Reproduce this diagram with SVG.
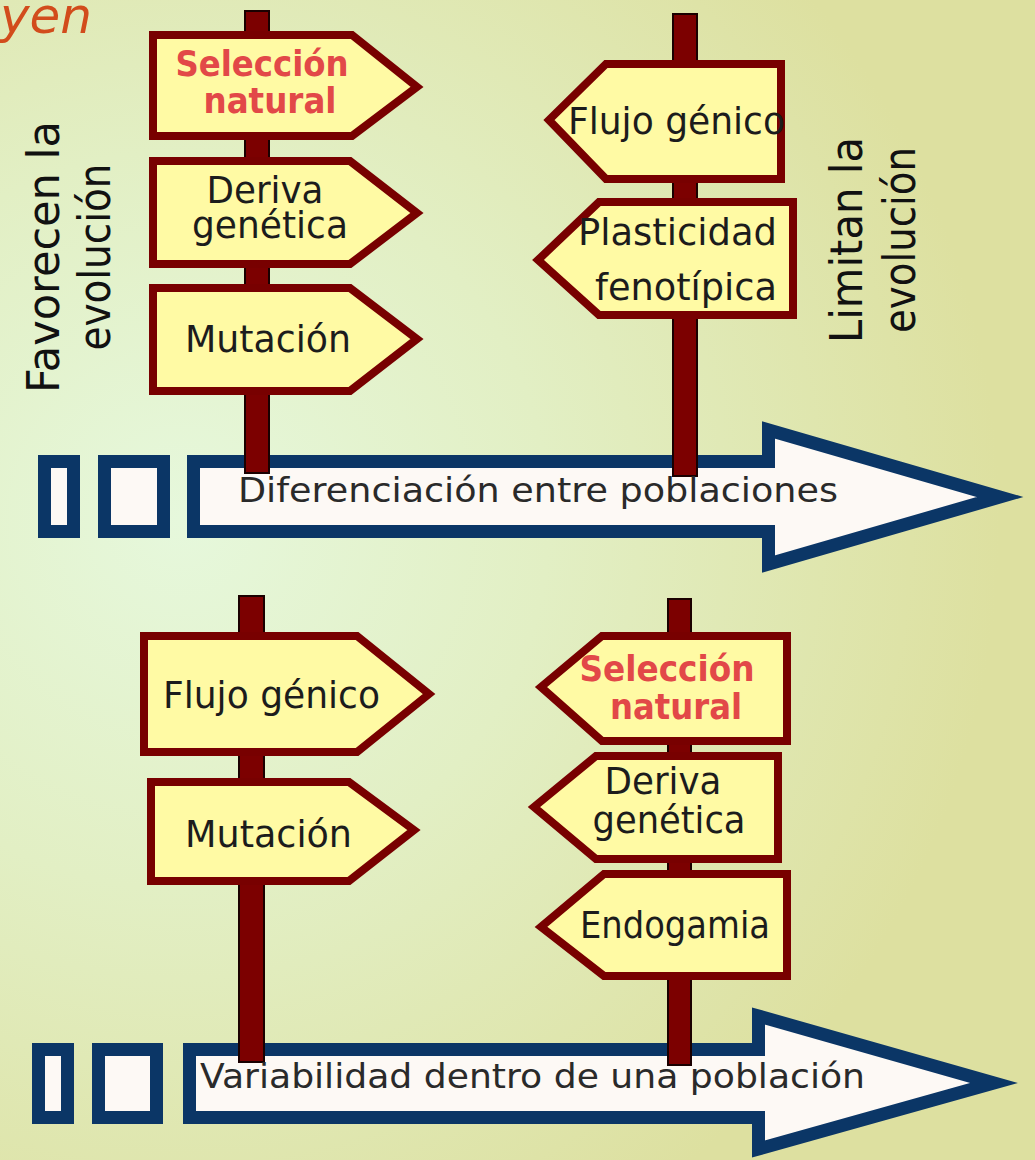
<svg xmlns="http://www.w3.org/2000/svg" width="1035" height="1160" viewBox="0 0 1035 1160">
<defs>
<radialGradient id="bg" gradientUnits="userSpaceOnUse" cx="180" cy="520" r="820">
<stop offset="0" stop-color="#e6f8dc"/>
<stop offset="0.45" stop-color="#e2efc4"/>
<stop offset="1" stop-color="#dde0a0"/>
</radialGradient>
<style>
.sign{fill:#fffaa4;stroke:#780000;stroke-width:8;stroke-linejoin:miter}
.post{fill:#7c0000;stroke:#1a0000;stroke-width:2}
.arr{fill:#fdf9f5;stroke:#0b3666;stroke-width:13;stroke-linejoin:miter;stroke-miterlimit:6}
.t{font-family:"DejaVu Sans",sans-serif;font-size:38px;fill:#1c1c1c}
.r{font-family:"DejaVu Sans",sans-serif;font-size:35px;font-weight:bold;fill:#e24848}
.at{font-family:"DejaVu Sans",sans-serif;font-size:33px;fill:#2a2a2a}
.v{font-family:"DejaVu Sans",sans-serif;font-size:45px;fill:#111}
.m{text-anchor:middle}
</style>
</defs>
<rect x="0" y="0" width="1035" height="1160" fill="url(#bg)"/>
<text x="92" y="33" text-anchor="end" font-family="DejaVu Sans, sans-serif" font-style="italic" font-size="50" fill="#d24c1c">yen</text>

<g id="arrows">
<g id="arrow-top">
<rect class="arr" x="44.5" y="461.5" width="29" height="70"/>
<rect class="arr" x="104.5" y="461.5" width="59" height="70"/>
<polygon class="arr" points="193.5,461.5 768.5,461.5 768.5,430 1000,497 768.5,564 768.5,531.5 193.5,531.5"/>
</g>
<g id="arrow-bottom">
<rect class="arr" x="38.5" y="1049.5" width="29" height="68"/>
<rect class="arr" x="98.5" y="1049.5" width="58" height="68"/>
<polygon class="arr" points="189.5,1049.5 758.5,1049.5 758.5,1016 994,1083 758.5,1149 758.5,1117.5 189.5,1117.5"/>
</g>
</g>

<g id="posts">
<rect class="post" x="245" y="11" width="24" height="462"/>
<rect class="post" x="673" y="14" width="24" height="462"/>
<rect class="post" x="239" y="596" width="25" height="466"/>
<rect class="post" x="668" y="599" width="23" height="466"/>
</g>

<text class="at" x="238" y="502" textLength="600" lengthAdjust="spacingAndGlyphs">Diferenciación entre poblaciones</text>
<text class="at" x="200" y="1088" textLength="665" lengthAdjust="spacingAndGlyphs">Variabilidad dentro de una población</text>

<g id="sign-seleccion-top">
<polygon class="sign" points="153,35 352,35 417,87 352,136 153,136"/>
<text class="r m" x="262" y="76" textLength="173" lengthAdjust="spacingAndGlyphs">Selección</text>
<text class="r m" x="270" y="113" textLength="133" lengthAdjust="spacingAndGlyphs">natural</text>
</g>
<g id="sign-deriva-top">
<polygon class="sign" points="153,161 350,161 417,213 350,264 153,264"/>
<text class="t m" x="265" y="203" textLength="117" lengthAdjust="spacingAndGlyphs">Deriva</text>
<text class="t m" x="270" y="238" textLength="156" lengthAdjust="spacingAndGlyphs">genética</text>
</g>
<g id="sign-mutacion-top">
<polygon class="sign" points="153,288 350,288 417,339 350,391 153,391"/>
<text class="t m" x="268" y="352" textLength="166" lengthAdjust="spacingAndGlyphs">Mutación</text>
</g>
<g id="sign-flujo-top">
<polygon class="sign" points="781,64 606,64 549,120 606,179 781,179"/>
<text class="t" x="568" y="134" textLength="217" lengthAdjust="spacingAndGlyphs">Flujo génico</text>
</g>
<g id="sign-plasticidad">
<polygon class="sign" points="793,202 599,202 538,260 599,315 793,315"/>
<text class="t" x="578" y="245" textLength="199" lengthAdjust="spacingAndGlyphs">Plasticidad</text>
<text class="t" x="595" y="300" textLength="182" lengthAdjust="spacingAndGlyphs">fenotípica</text>
</g>

<g id="sign-flujo-bottom">
<polygon class="sign" points="144,636 357,636 429,694 357,752 144,752"/>
<text class="t" x="163" y="708" textLength="217" lengthAdjust="spacingAndGlyphs">Flujo génico</text>
</g>
<g id="sign-mutacion-bottom">
<polygon class="sign" points="151,782 349,782 414,830 349,881 151,881"/>
<text class="t" x="185" y="847" textLength="167" lengthAdjust="spacingAndGlyphs">Mutación</text>
</g>
<g id="sign-seleccion-bottom">
<polygon class="sign" points="787,636 602,636 541,687 602,741 787,741"/>
<text class="r m" x="667" y="681" textLength="175" lengthAdjust="spacingAndGlyphs">Selección</text>
<text class="r m" x="676" y="719" textLength="132" lengthAdjust="spacingAndGlyphs">natural</text>
</g>
<g id="sign-deriva-bottom">
<polygon class="sign" points="778,756 596,756 534,807 596,859 778,859"/>
<text class="t m" x="663" y="794" textLength="117" lengthAdjust="spacingAndGlyphs">Deriva</text>
<text class="t m" x="669" y="833" textLength="153" lengthAdjust="spacingAndGlyphs">genética</text>
</g>
<g id="sign-endogamia">
<polygon class="sign" points="787,874 604,874 541,927 604,976 787,976"/>
<text class="t" x="580" y="938" textLength="190" lengthAdjust="spacingAndGlyphs">Endogamia</text>
</g>

<g id="label-favorecen">
<text class="v m" transform="translate(59,257) rotate(-90)" textLength="272" lengthAdjust="spacingAndGlyphs">Favorecen la</text>
<text class="v m" transform="translate(110,257) rotate(-90)" textLength="187" lengthAdjust="spacingAndGlyphs">evolución</text>
</g>
<g id="label-limitan">
<text class="v m" transform="translate(862,240) rotate(-90)" textLength="206" lengthAdjust="spacingAndGlyphs">Limitan la</text>
<text class="v m" transform="translate(915,240) rotate(-90)" textLength="186" lengthAdjust="spacingAndGlyphs">evolución</text>
</g>
</svg>
